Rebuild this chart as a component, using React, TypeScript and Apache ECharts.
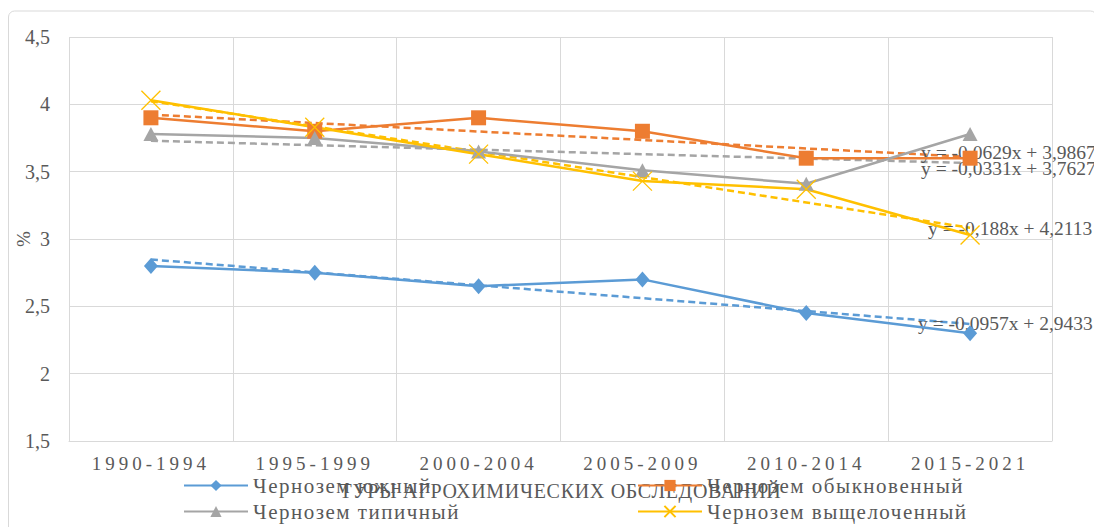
import React, { useEffect, useRef } from "react";
import * as echarts from "echarts";

const categories = ["1990-1994", "1995-1999", "2000-2004", "2005-2009", "2010-2014", "2015-2021"];
const seriesNames = ["Чернозем южный", "Чернозем обыкновенный", "Чернозем типичный", "Чернозем выщелоченный"];
const southern = [2.8, 2.75, 2.65, 2.7, 2.45, 2.3];
const ordinary = [3.9, 3.8, 3.9, 3.8, 3.6, 3.6];
const typical = [3.78, 3.75, 3.65, 3.51, 3.41, 3.78];
const leached = [4.03, 3.83, 3.63, 3.43, 3.37, 3.03];
const xAxisTitle = "ТУРЫ АГРОХИМИЧЕСКИХ ОБСЛЕДОВАНИЙ";
const yAxisTitle = "%";
const yMin = 1.5;
const yMax = 4.5;
const yStep = 0.5;

const colors = ["#5B9BD5", "#ED7D31", "#A5A5A5", "#FFC000"];
const symbols = ["diamond", "rect", "triangle", "path://M0,0L20,20M20,0L0,20"];
const symbolSizes: any[] = [[14, 16], 15, [15, 14], 19];
const eqOffsets: number[][] = [[-52, 0], [-49, -4], [-49, 5], [-42, 1]];
const FONT = "Liberation Serif";
const TXT = "#595959";

function fit(vals: number[]) {
  const n = vals.length;
  const xs = vals.map((_, i) => i + 1);
  const mx = xs.reduce((a, b) => a + b, 0) / n;
  const my = vals.reduce((a, b) => a + b, 0) / n;
  let sxy = 0;
  let sxx = 0;
  xs.forEach((x, i) => {
    sxy += (x - mx) * (vals[i] - my);
    sxx += (x - mx) * (x - mx);
  });
  const slope = sxy / sxx;
  const intercept = my - slope * mx;
  return { slope, intercept, line: xs.map((x) => slope * x + intercept) };
}

function fmt(v: number) {
  let s = Math.abs(v).toFixed(4);
  s = s.replace(/0+$/, "").replace(/\.$/, "");
  return s.replace(".", ",");
}

export default function App() {
  const ref = useRef<HTMLDivElement>(null);
  useEffect(() => {
    document.body.style.overflow = "hidden";
    const el = ref.current!;
    const chart = echarts.init(el, undefined, { renderer: "svg" });
    const data = [southern, ordinary, typical, leached];

    const trendSeries = data.map((vals, k) => {
      const f = fit(vals);
      const eq = `y = ${f.slope < 0 ? "-" : ""}${fmt(f.slope)}x ${f.intercept < 0 ? "-" : "+"} ${fmt(f.intercept)}`;
      return {
        type: "line",
        name: "trend" + k,
        data: f.line,
        symbol: "none",
        silent: true,
        z: 2,
        lineStyle: { color: colors[k], width: 2.5, type: [7, 4] },
        endLabel: {
          show: true,
          formatter: eq,
          distance: 0,
          offset: eqOffsets[k],
          fontFamily: FONT,
          fontSize: 19.5,
          color: TXT,
        },
      };
    });

    const mainSeries = data.map((vals, k) => ({
      type: "line",
      name: seriesNames[k],
      data: vals,
      symbol: symbols[k],
      symbolSize: symbolSizes[k],
      z: 3,
      lineStyle: { color: colors[k], width: 2.5 },
      itemStyle:
        k === 3
          ? { color: colors[k], borderColor: colors[k], borderWidth: 1.3 }
          : { color: colors[k] },
    }));

    const legendPos = [
      [175, 467],
      [629, 467],
      [175, 493],
      [629, 493],
    ];
    const legends = seriesNames.map((nm, k) => ({
      data: [nm],
      left: legendPos[k][0],
      top: legendPos[k][1],
      padding: 0,
      itemWidth: 64,
      itemHeight: 14,
      itemGap: 5,
      selectedMode: false,
      textStyle: { fontFamily: FONT, fontSize: 21, color: TXT },
    }));

    const applySpacing = () => {
      el.querySelectorAll("text").forEach((t) => {
        const s = (t.textContent || "").trim();
        if (categories.includes(s)) t.setAttribute("letter-spacing", "4");
        else if (seriesNames.includes(s)) t.setAttribute("letter-spacing", "1.5");
        else if (s === xAxisTitle) t.setAttribute("letter-spacing", "0.7");
      });
    };
    chart.on("finished", applySpacing);

    chart.setOption({
      animation: false,
      textStyle: { fontFamily: FONT },
      graphic: [
        {
          type: "rect",
          shape: { x: 0.5, y: 3, width: 1088, height: 560, r: 6 },
          style: { fill: "none", stroke: "#d9d9d9", lineWidth: 1 },
          silent: true,
          z: -10,
        },
      ],
      grid: { left: 61, top: 29, width: 983, height: 404, containLabel: false, outerBoundsMode: "none" },
      legend: legends,
      xAxis: {
        type: "category",
        data: categories,
        boundaryGap: true,
        axisLine: { show: true, lineStyle: { color: "#d9d9d9", width: 1 } },
        axisTick: { show: false },
        splitLine: { show: true, lineStyle: { color: "#d9d9d9", width: 1 } },
        axisLabel: { fontFamily: FONT, fontSize: 19, color: TXT, margin: 13 },
        name: xAxisTitle,
        nameLocation: "middle",
        nameGap: 40,
        nameMoveOverlap: false,
        nameTextStyle: { fontFamily: FONT, fontSize: 20, color: TXT },
      },
      yAxis: {
        type: "value",
        min: yMin,
        max: yMax,
        interval: yStep,
        axisLine: { show: false },
        axisTick: { show: false },
        splitLine: { show: true, lineStyle: { color: "#d9d9d9", width: 1 } },
        axisLabel: {
          fontFamily: FONT,
          fontSize: 20,
          color: TXT,
          margin: 19,
          formatter: (v: number) => String(v).replace(".", ","),
        },
        name: yAxisTitle,
        nameLocation: "middle",
        nameGap: 36,
        nameMoveOverlap: false,
        nameTextStyle: { fontFamily: FONT, fontSize: 19, color: TXT },
      },
      series: [...trendSeries, ...mainSeries],
    });
    applySpacing();

    return () => {
      chart.dispose();
    };
  }, []);

  return <div ref={ref} style={{ width: 1094, height: 519 }} />;
}
